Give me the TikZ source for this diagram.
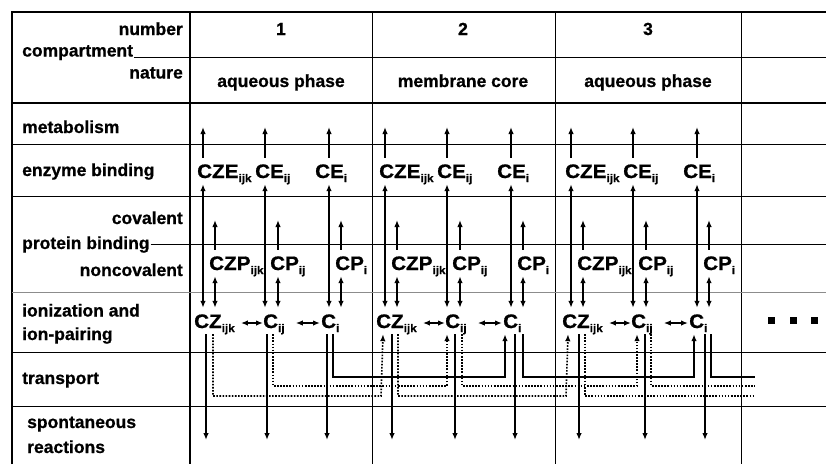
\documentclass[tikz,border=0pt]{standalone}
\usepackage{fontspec}
\setmainfont{Liberation Sans}[BoldFeatures={FakeBold=0.8}]
\newfontfamily\spfont{Liberation Sans}[FakeStretch=1.06, BoldFeatures={FakeBold=0.8}]
\usetikzlibrary{arrows.meta,calc}
% lowered small subscript for species names
\newcommand\sbs[1]{\raisebox{-4pt}{\fontsize{11}{12}\selectfont #1}}
\begin{document}
\begin{tikzpicture}[x=1pt,y=-1pt,
  lbl/.style={font=\bfseries\fontsize{17.5}{20}\selectfont, inner sep=0pt},
  lw/.style={lbl, anchor=base west},
  le/.style={lbl, anchor=base east},
  lc/.style={lbl, anchor=base},
  sp/.style={font=\spfont\bfseries\fontsize{19.5}{22}\selectfont, anchor=base west,
    inner xsep=0pt, inner ysep=6pt, text height=14pt, text depth=0pt},
  thin/.style={line width=1pt},
  heavy/.style={line width=2pt},
  soft/.style={line width=1pt, black!45},
  tip/.tip={Latex[length=7pt,width=5.5pt]},
  conn/.style={line width=1.6pt},
  arr/.style={conn, -tip},
  darr/.style={conn, tip-tip},
  dots/.style={line width=1.6pt, dash pattern=on 1.6pt off 1.5pt},
  dln/.style={dots, -tip},
]
\useasboundingbox (0,0) rectangle (826,464);

% ---- header and row labels
\node[le] (hnum) at (183,35) {number};
\node[lw] (hcomp) at (22,56.5) {compartment};
\node[le] (hnat) at (183,78.5) {nature};
\node[lc] (n1) at (281,35) {1};
\node[lc] (n2) at (463,35) {2};
\node[lc] (n3) at (648,35) {3};
\node[lc] (k1) at (281,87) {aqueous phase};
\node[lc] (k2) at (463,87) {membrane core};
\node[lc] (k3) at (648,87) {aqueous phase};

\node[lw] (metab) at (22,133) {metabolism};
\node[lw] (enz) at (22,176) {enzyme binding};
\node[le] (cov) at (183,224) {covalent};
\node[lw] (prot) at (22,249) {protein binding};
\node[le] (ncov) at (183,276) {noncovalent};
\node[lw] (ion1) at (22,316.5) {ionization and};
\node[lw] (ion2) at (22,340) {ion-pairing};
\node[lw] (trans) at (22,384) {transport};
\node[lw] (spont1) at (27,428) {spontaneous};
\node[lw] (spont2) at (27,453) {reactions};

% ---- table rules
\draw[heavy] (12,464) -- (12,12) -- (826,12);
\draw[heavy] (12,103) -- (826,103);
\draw[heavy] (190,12) -- (190,464);
\foreach \x in {372,555,741} \draw[thin] (\x,12) -- (\x,464);
\draw[thin] ([xshift=1pt]hcomp.base east |- 0,57) -- (826,57);
\draw[thin] ([xshift=1pt]prot.east |- 0,244) -- (826,244);
\foreach \y in {144,196,352,406} \draw[thin] (12,\y) -- (826,\y);
\draw[soft] (12,292) -- (826,292);

% ---- reference levels
\coordinate (mtop) at (0,127);
\coordinate (ctop) at (0,220);
\coordinate (spb) at (0,440);
\coordinate (tsol) at (0,377);
\coordinate (tdij) at (0,386);
\coordinate (tdz) at (0,396);
\coordinate (tend) at (755,0);

% ---- species and their exchanges, one compartment at a time
\foreach \b/\n in {190/1,372/2,558/3}{
  \node[sp] (CZE\n) at (\b+7,178) {CZE\sbs{ijk}};
  \node[sp] (CEij\n) at (\b+65,178) {CE\sbs{ij}};
  \node[sp] (CEi\n) at (\b+125,178) {CE\sbs{i}};
  \node[sp] (CZP\n) at (\b+19,270) {CZP\sbs{ijk}};
  \node[sp] (CPij\n) at (\b+80,270) {CP\sbs{ij}};
  \node[sp] (CPi\n) at (\b+145,270) {CP\sbs{i}};
  \node[sp] (CZ\n) at (\b+4,328) {CZ\sbs{ijk}};
  \node[sp] (Cij\n) at (\b+73,328) {C\sbs{ij}};
  \node[sp] (Ci\n) at (\b+131,328) {C\sbs{i}};

  \coordinate (a\n) at (\b+13,0);
  \coordinate (b\n) at (\b+75,0);
  \coordinate (c\n) at (\b+139,0);
  \coordinate (p\n) at (\b+25,0);
  \coordinate (q\n) at (\b+88,0);
  \coordinate (r\n) at (\b+151,0);

  % metabolism
  \draw[arr] (a\n |- CZE\n.north) -- (a\n |- mtop);
  \draw[arr] (b\n |- CEij\n.north) -- (b\n |- mtop);
  \draw[arr] (c\n |- CEi\n.north) -- (c\n |- mtop);
  % enzyme binding
  \draw[darr] (a\n |- CZE\n.south) -- (a\n |- CZ\n.north);
  \draw[darr] (b\n |- CEij\n.south) -- (b\n |- Cij\n.north);
  \draw[darr] (c\n |- CEi\n.south) -- (c\n |- Ci\n.north);
  % covalent protein binding
  \draw[arr] (p\n |- CZP\n.north) -- (p\n |- ctop);
  \draw[arr] (q\n |- CPij\n.north) -- (q\n |- ctop);
  \draw[arr] (r\n |- CPi\n.north) -- (r\n |- ctop);
  % noncovalent protein binding
  \draw[darr] (p\n |- CZP\n.south) -- (p\n |- CZ\n.north);
  \draw[darr] (q\n |- CPij\n.south) -- (q\n |- Cij\n.north);
  \draw[darr] (r\n |- CPi\n.south) -- (r\n |- Ci\n.north);
  % ionization and ion-pairing
  \draw[darr, shorten <=6pt] ([yshift=5pt]CZ\n.base east) -- ([yshift=5pt]Cij\n.base west);
  \draw[darr, shorten <=11pt, shorten >=1pt] ([yshift=5pt]Cij\n.base east) -- ([yshift=5pt]Ci\n.base west);
}

% ---- spontaneous reactions
\foreach \x/\nd in {206/CZ1,267/Cij1,327/Ci1,392/CZ2,455/Cij2,515/Ci2,579/CZ3,645/Cij3,705/Ci3}
  \draw[arr] (\x,0 |- \nd.south) -- (\x,0 |- spb);

% ---- transport between neighbouring compartments
\draw[arr] (333,0 |- Ci1.south) -- (333,0 |- tsol) -- (505,0 |- tsol) -- (505,0 |- Ci2.south);
\draw[arr] (523,0 |- Ci2.south) -- (523,0 |- tsol) -- (694,0 |- tsol) -- (694,0 |- Ci3.south);
\draw[conn] (711,0 |- Ci3.south) -- (711,0 |- tsol) -- (tend |- tsol);

\draw[dln] (273,0 |- Cij1.south) -- (273,0 |- tdij) -- (447,0 |- tdij) -- (447,0 |- Cij2.south);
\draw[dln] (462,0 |- Cij2.south) -- (462,0 |- tdij) -- (637,0 |- tdij) -- (637,0 |- Cij3.south);
\draw[dots] (651,0 |- Cij3.south) -- (651,0 |- tdij) -- (tend |- tdij);

\draw[dln] (213,0 |- CZ1.south) -- (213,0 |- tdz) -- (381,0 |- tdz) -- (383,0 |- CZ2.south);
\draw[dln] (398,0 |- CZ2.south) -- (398,0 |- tdz) -- (566,0 |- tdz) -- (568,0 |- CZ3.south);
\draw[dots] (585,0 |- CZ3.south) -- (585,0 |- tdz) -- (tend |- tdz);

% ---- further compartments
\foreach \x [count=\k] in {771,793,814}
  \node[fill, minimum size=7pt, inner sep=0pt] (more\k) at (\x,320) {};
\end{tikzpicture}
\end{document}
